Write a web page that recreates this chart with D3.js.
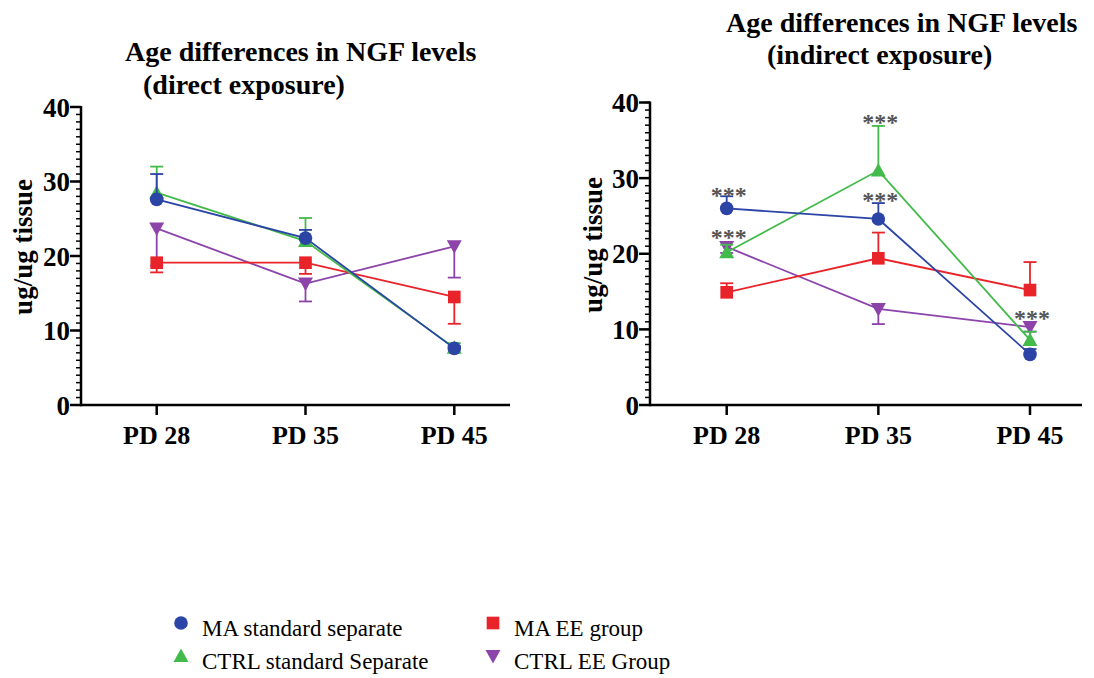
<!DOCTYPE html>
<html>
<head>
<meta charset="utf-8">
<script src="https://cdn.jsdelivr.net/npm/d3@7"></script>
<style>
  body { margin: 0; background: #fff; }
  svg { display: block; font-family: "Liberation Serif", "Times New Roman", serif; }
</style>
</head>
<body>
<div id="box"></div>
<script>
// NGF levels by age, two exposure conditions
var categories = ["PD 28", "PD 35", "PD 45"];
var yTicks = [0, 10, 20, 30, 40];
var seriesNames = ["MA standard separate", "CTRL standard Separate", "MA EE group", "CTRL EE Group"];

// direct exposure (means and error)
var directMaStd = [27.6, 22.4, 7.6];
var directMaStdErr = [3.4, 1.1, 0.3];
var directCtrlStd = [28.5, 22.0, 7.7];
var directCtrlStdErr = [3.5, 3.1, 0.6];
var directMaEE = [19.1, 19.1, 14.5];
var directMaEEErr = [1.3, 1.5, 3.6];
var directCtrlEE = [23.7, 16.3, 21.3];
var directCtrlEEErr = [5.0, 2.4, 4.2];

// indirect exposure
var indirectMaStd = [26.0, 24.6, 6.7];
var indirectMaStdErr = [1.6, 2.1, 0.7];
var indirectCtrlStd = [20.2, 31.0, 8.6];
var indirectCtrlStdErr = [1.0, 5.9, 1.1];
var indirectMaEE = [14.9, 19.4, 15.2];
var indirectMaEEErr = [1.2, 3.4, 3.7];
var indirectCtrlEE = [20.9, 12.7, 10.3];
var indirectCtrlEEErr = [0.8, 2.0, 0.6];

// significance marks on the indirect panel
var starCats = ["PD 28", "PD 28", "PD 35", "PD 35", "PD 45"];
var starVals = [28.3, 22.7, 37.9, 27.6, 12.0];

var colors = ["#2b44a6", "#43bb4a", "#e8242a", "#8c44aa"];
var shapes = ["circle", "up", "square", "down"];

var width = 1094, height = 678;

var svg = d3.select("#box").append("svg")
  .attr("width", width)
  .attr("height", height);

svg.append("rect").attr("width", width).attr("height", height).attr("fill", "#fff");

function markerPath(shape) {
  if (shape == "circle") return d3.symbol(d3.symbolCircle, 145)();
  if (shape == "square") return d3.symbol(d3.symbolSquare, 160)();
  if (shape == "up") return "M0,-7.5L7.5,6L-7.5,6Z";
  return "M0,7.5L7.5,-6L-7.5,-6Z";
}

function drawPanel(p) {
  var g = svg.append("g");

  var x = d3.scalePoint().domain(categories).range([p.catFirst, p.catLast]);
  var y = d3.scaleLinear().domain([0, 40]).range([p.yBottom, p.yTop]);

  // title
  p.title.forEach(function(t, i) {
    g.append("text")
      .attr("x", p.titleX[i]).attr("y", p.titleY[i])
      .attr("font-size", 28).attr("font-weight", "bold")
      .text(t);
  });

  // y axis label
  g.append("text")
    .attr("transform", "translate(" + p.labelX + "," + p.labelY + ") rotate(-90)")
    .attr("text-anchor", "middle")
    .attr("font-size", 27).attr("font-weight", "bold")
    .text("ug/ug tissue");

  // minor ticks
  g.selectAll(".minor").data(d3.range(0, 41, 1)).enter().append("line")
    .attr("x1", p.axisX - 5).attr("x2", p.axisX)
    .attr("y1", function(d) { return y(d); }).attr("y2", function(d) { return y(d); })
    .attr("stroke", "#000").attr("stroke-width", 1.5);

  g.selectAll(".major").data(yTicks).enter().append("line")
    .attr("x1", p.axisX - 11).attr("x2", p.axisX)
    .attr("y1", function(d) { return y(d); }).attr("y2", function(d) { return y(d); })
    .attr("stroke", "#000").attr("stroke-width", 2.5);

  g.selectAll(".ylab").data(yTicks).enter().append("text")
    .attr("x", p.axisX - 11).attr("y", function(d) { return y(d); })
    .attr("dy", "0.36em")
    .attr("text-anchor", "end")
    .attr("font-size", 27).attr("font-weight", "bold")
    .text(function(d) { return d; });

  // axes lines
  g.append("line")
    .attr("x1", p.axisX).attr("x2", p.axisX)
    .attr("y1", y(40) - 1).attr("y2", p.yBottom + 1.25)
    .attr("stroke", "#000").attr("stroke-width", 2.5);
  g.append("line")
    .attr("x1", p.axisX).attr("x2", p.xEnd)
    .attr("y1", p.yBottom).attr("y2", p.yBottom)
    .attr("stroke", "#000").attr("stroke-width", 2.5);

  g.selectAll(".xtick").data(categories).enter().append("line")
    .attr("x1", function(d) { return x(d); }).attr("x2", function(d) { return x(d); })
    .attr("y1", p.yBottom).attr("y2", p.yBottom + 10)
    .attr("stroke", "#000").attr("stroke-width", 2.5);

  g.selectAll(".xlab").data(categories).enter().append("text")
    .attr("x", function(d) { return x(d); }).attr("y", p.yBottom + 39)
    .attr("text-anchor", "middle")
    .attr("font-size", 26).attr("font-weight", "bold")
    .text(function(d) { return d; });

  var line = d3.line()
    .x(function(d, i) { return x(categories[i]); })
    .y(function(d) { return y(d); });

  // draw order: purple, red, green, blue on top
  [3, 2, 1, 0].forEach(function(k) {
    var s = p.series[k];
    var sg = g.append("g");
    // error bars
    s.vals.forEach(function(v, i) {
      var cx = x(categories[i]);
      var end = v + s.dir * s.errs[i];
      sg.append("line")
        .attr("x1", cx).attr("x2", cx)
        .attr("y1", y(v)).attr("y2", y(end))
        .attr("stroke", colors[k]).attr("stroke-width", 1.8);
      sg.append("line")
        .attr("x1", cx - 6.5).attr("x2", cx + 6.5)
        .attr("y1", y(end)).attr("y2", y(end))
        .attr("stroke", colors[k]).attr("stroke-width", 1.8);
    });
    sg.append("path")
      .attr("d", line(s.vals))
      .attr("fill", "none")
      .attr("stroke", colors[k]).attr("stroke-width", 1.8);
    sg.selectAll("path.mk").data(s.vals).enter().append("path")
      .attr("class", "mk")
      .attr("d", markerPath(shapes[k]))
      .attr("transform", function(d, i) { return "translate(" + x(categories[i]) + "," + y(d) + ")"; })
      .attr("fill", colors[k]);
  });

  if (p.stars) {
    g.selectAll(".star").data(p.stars.vals).enter().append("text")
      .attr("x", function(d, i) { return x(p.stars.cats[i]) + 2; })
      .attr("y", function(d) { return y(d) + 12; })
      .attr("text-anchor", "middle")
      .attr("font-size", 24).attr("font-weight", "bold")
      .attr("fill", "#555")
      .text("***");
  }
}

drawPanel({
  axisX: 81, xEnd: 510, yTop: 107, yBottom: 405,
  catFirst: 156.7, catLast: 454.3,
  labelX: 32, labelY: 247,
  title: ["Age differences in NGF levels", "(direct exposure)"],
  titleX: [125, 143], titleY: [61, 94],
  series: [
    { vals: directMaStd, errs: directMaStdErr, dir: 1 },
    { vals: directCtrlStd, errs: directCtrlStdErr, dir: 1 },
    { vals: directMaEE, errs: directMaEEErr, dir: -1 },
    { vals: directCtrlEE, errs: directCtrlEEErr, dir: -1 }
  ]
});

drawPanel({
  axisX: 650, xEnd: 1082, yTop: 102.5, yBottom: 405,
  catFirst: 726.7, catLast: 1030,
  labelX: 602, labelY: 245,
  title: ["Age differences in NGF levels", "(indirect exposure)"],
  titleX: [726, 767], titleY: [32, 64],
  series: [
    { vals: indirectMaStd, errs: indirectMaStdErr, dir: 1 },
    { vals: indirectCtrlStd, errs: indirectCtrlStdErr, dir: 1 },
    { vals: indirectMaEE, errs: indirectMaEEErr, dir: 1 },
    { vals: indirectCtrlEE, errs: indirectCtrlEEErr, dir: -1 }
  ],
  stars: { cats: starCats, vals: starVals }
});

// legend
var legPos = [[181, 623], [181, 656], [493, 623], [493, 656]];
var legend = svg.append("g");
seriesNames.forEach(function(name, k) {
  legend.append("path")
    .attr("d", markerPath(shapes[k]))
    .attr("transform", "translate(" + legPos[k][0] + "," + legPos[k][1] + ")")
    .attr("fill", colors[k]);
  legend.append("text")
    .attr("x", legPos[k][0] + 21).attr("y", legPos[k][1] + 13)
    .attr("font-size", 23)
    .text(name);
});
</script>
</body>
</html>
